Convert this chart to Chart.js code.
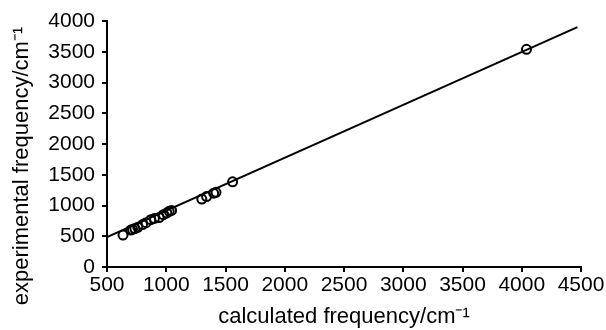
<!DOCTYPE html>
<html>
<head>
<meta charset="utf-8">
<script src="https://cdn.jsdelivr.net/npm/chart.js@4.4.1/dist/chart.umd.min.js"></script>
<style>
  html, body { margin: 0; padding: 0; background: #fff; }
  #wrap { width: 606px; height: 330px; }
</style>
</head>
<body>
<div id="wrap"><canvas id="freqChart" width="606" height="330"></canvas></div>
<script>
// calculated vs experimental frequencies (cm^-1)
const calcFreq = [635, 700, 715, 735, 760, 800, 830, 870, 900, 940, 975, 1005, 1025, 1045, 1300, 1340, 1400, 1420, 1560, 4040];
const expFreq  = [520, 600, 610, 625, 645, 690, 720, 770, 790, 805, 850, 880, 905, 920, 1105, 1145, 1200, 1215, 1385, 3540];

// fitted line end points
const fitX = [500, 4470];
const fitY = [485, 3900];

const xTicks = [500, 1000, 1500, 2000, 2500, 3000, 3500, 4000, 4500];
const yTicks = [0, 500, 1000, 1500, 2000, 2500, 3000, 3500, 4000];

const FONT = '"Liberation Sans", Arial, sans-serif';
Chart.defaults.font.family = FONT;
Chart.defaults.color = '#000';

// y title drawn by hand: in the figure it sits lower than the axis centre
const yTitlePlugin = {
  id: 'yTitle',
  afterDraw(chart) {
    const ctx = chart.ctx;
    ctx.save();
    ctx.translate(22, 166);
    ctx.rotate(-Math.PI / 2);
    ctx.font = '22px ' + FONT;
    ctx.fillStyle = '#000';
    ctx.textAlign = 'center';
    ctx.textBaseline = 'middle';
    ctx.fillText('experimental frequency/cm\u207B\u00B9', 0, 0);
    ctx.restore();
  }
};

new Chart(document.getElementById('freqChart').getContext('2d'), {
  type: 'scatter',
  data: {
    datasets: [
      {
        label: 'fit',
        type: 'line',
        data: fitX.map((x, i) => ({ x, y: fitY[i] })),
        borderColor: '#000',
        borderWidth: 2,
        pointRadius: 0,
        fill: false,
        order: 2
      },
      {
        label: 'data',
        data: calcFreq.map((x, i) => ({ x, y: expFreq[i] })),
        pointRadius: 4.5,
        pointBorderWidth: 2,
        pointBorderColor: '#000',
        pointBackgroundColor: 'rgba(255,255,255,0)',
        order: 1
      }
    ]
  },
  options: {
    responsive: false,
    animation: false,
    layout: { padding: { left: 4, right: 25, top: 21, bottom: 0 } },
    plugins: { legend: { display: false }, tooltip: { enabled: false } },
    scales: {
      x: {
        type: 'linear',
        min: 500,
        max: 4500,
        afterBuildTicks: s => { s.ticks = xTicks.map(v => ({ value: v })); },
        afterFit: s => { s.height = 63; },
        border: { color: '#000', width: 2 },
        grid: { drawOnChartArea: false, tickLength: 5, color: '#000', lineWidth: 2 },
        ticks: { font: { size: 21 }, padding: 1, maxRotation: 0, callback: v => String(v) },
        title: {
          display: true,
          text: 'calculated frequency/cm\u207B\u00B9',
          font: { size: 22 },
          padding: { top: 0, bottom: 0 }
        }
      },
      y: {
        type: 'linear',
        min: 0,
        max: 4000,
        afterBuildTicks: s => { s.ticks = yTicks.map(v => ({ value: v })); },
        afterFit: s => { s.width = 103; },
        border: { color: '#000', width: 2 },
        grid: { drawOnChartArea: false, tickLength: 5, color: '#000', lineWidth: 2 },
        ticks: { font: { size: 21 }, padding: 7, callback: v => String(v) }
      }
    }
  },
  plugins: [yTitlePlugin]
});
</script>
</body>
</html>
